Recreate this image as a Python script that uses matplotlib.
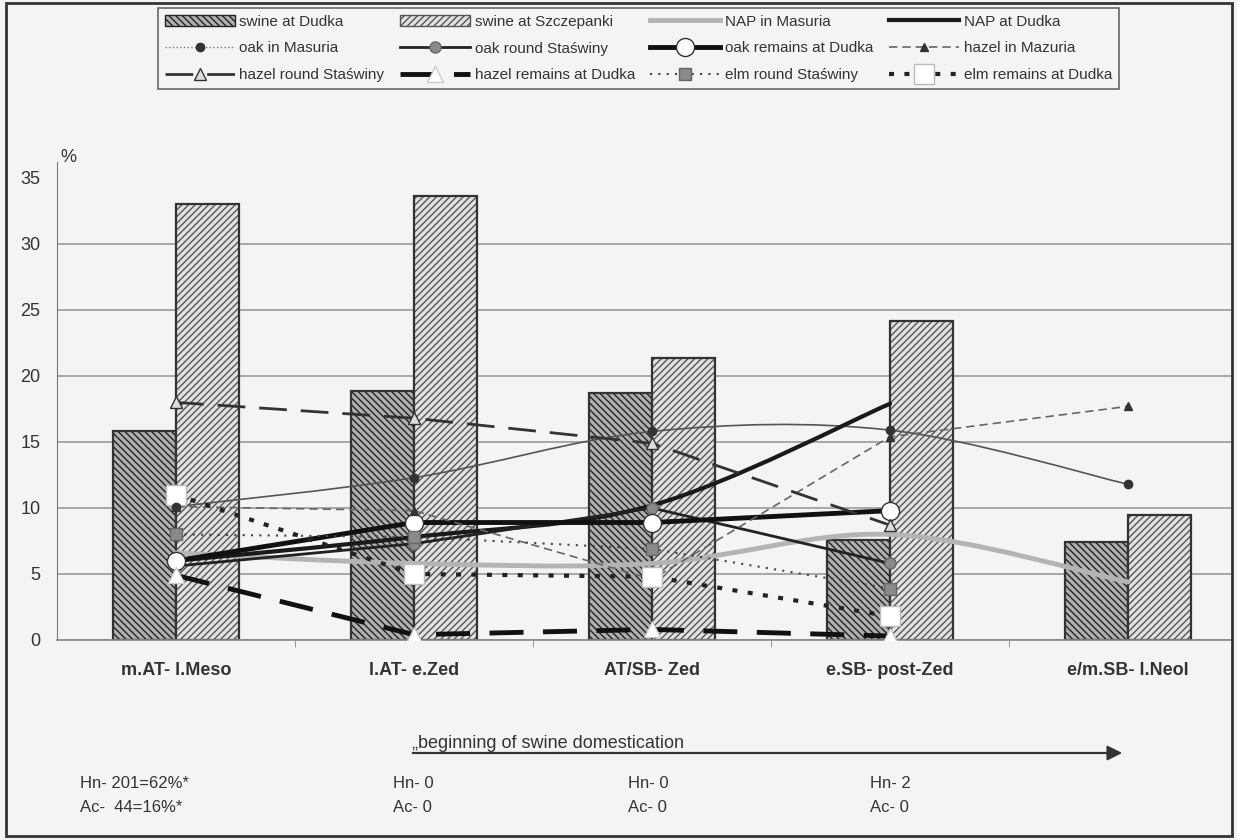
import numpy as np
import matplotlib
matplotlib.use('Agg')
import matplotlib.pyplot as plt
from matplotlib.path import Path
from matplotlib.patches import PathPatch, Patch, Rectangle, FancyArrowPatch
from matplotlib.lines import Line2D

plt.rcParams['font.family'] = ['Liberation Sans', 'DejaVu Sans']
plt.rcParams['hatch.linewidth'] = 1.0

# data (%)
periods = ['m.AT- l.Meso', 'l.AT- e.Zed', 'AT/SB- Zed', 'e.SB- post-Zed', 'e/m.SB- l.Neol']
swine_dudka = [15.8, 18.9, 18.7, 7.6, 7.4]
swine_szczepanki = [33.0, 33.6, 21.4, 24.2, 9.5]
nap_masuria = [6.6, 5.8, 5.8, 8.0, 4.4]
nap_dudka = [6.0, 7.8, 10.2, 17.9, np.nan]
oak_masuria = [10.1, 12.3, 15.8, 15.9, 11.8]
oak_staswiny = [5.6, 7.3, 10.0, 5.8, np.nan]
oak_dudka = [6.0, 8.9, 8.9, 9.8, np.nan]
hazel_mazuria = [10.1, 9.8, 4.6, 15.4, 17.7]
hazel_staswiny = [18.0, 16.8, 14.9, 8.7, np.nan]
hazel_dudka = [4.9, 0.4, 0.8, 0.3, np.nan]
elm_staswiny = [8.0, 7.8, 6.9, 3.9, np.nan]
elm_dudka = [11.0, 5.0, 4.8, 1.8, np.nan]

hn_ac = [('Hn- 201=62%*', 'Ac-  44=16%*'), ('Hn- 0', 'Ac- 0'), ('Hn- 0', 'Ac- 0'), ('Hn- 2', 'Ac- 0')]
hn_ac_x = [80, 393, 628, 870]


def smooth_path(xs, ys):
    pts = [(x, y) for x, y in zip(xs, ys) if not np.isnan(y)]
    verts = [pts[0]]
    codes = [Path.MOVETO]
    for i in range(len(pts) - 1):
        p0 = pts[i - 1] if i > 0 else pts[i]
        p1, p2 = pts[i], pts[i + 1]
        p3 = pts[i + 2] if i + 2 < len(pts) else pts[i + 1]
        c1 = (p1[0] + (p2[0] - p0[0]) / 6, p1[1] + (p2[1] - p0[1]) / 6)
        c2 = (p2[0] - (p3[0] - p1[0]) / 6, p2[1] - (p3[1] - p1[1]) / 6)
        verts += [c1, c2, p2]
        codes += [Path.CURVE4] * 3
    return Path(verts, codes)


W, H = 1237, 840
fig = plt.figure(figsize=(12.37, 8.4), dpi=100, facecolor='#f4f4f4')


def fx(px):
    return px / W


def fy(py):
    return 1 - py / H


ax = fig.add_axes([fx(57), fy(640), fx(1232 - 57), (640 - 162) / H])
ax.set_facecolor('none')
x = np.arange(len(periods))
ax.set_xlim(-0.5, -0.5 + 1175 / 238)
ax.set_ylim(0, (640 - 162) / 13.2)

# bars: hatched fill then dark outline
bw = 0.265
dudka_hatch = '\\\\\\\\\\'
szcz_hatch = '/////'
ax.bar(x - bw / 2, swine_dudka, bw, color='#b0b0b0', edgecolor='#222222', hatch=dudka_hatch, linewidth=0, zorder=2)
ax.bar(x - bw / 2, swine_dudka, bw, fill=False, edgecolor='#333333', linewidth=1.6, zorder=2)
ax.bar(x + bw / 2, swine_szczepanki, bw, color='#e2e2e2', edgecolor='#555555', hatch=szcz_hatch, linewidth=0, zorder=2)
ax.bar(x + bw / 2, swine_szczepanki, bw, fill=False, edgecolor='#333333', linewidth=1.6, zorder=2)

# smoothed lines
smooth_specs = [
    (nap_masuria, dict(edgecolor='#b4b4b4', lw=3.5)),
    (oak_masuria, dict(edgecolor='#555555', lw=1.2)),
    (nap_dudka, dict(edgecolor='#1a1a1a', lw=3.0)),
]
for vals, kw in smooth_specs:
    ax.add_patch(PathPatch(smooth_path(x, np.array(vals, float)), fill=False, zorder=4, capstyle='round', **kw))
ax.plot(x, oak_masuria, ls='none', marker='o', ms=6, color='#333333', zorder=6)

line_specs = [
    (oak_staswiny, dict(color='#222222', lw=2.0, ls='-', marker='o', ms=8, mfc='#8a8a8a', mec='#666666')),
    (oak_dudka, dict(color='#111111', lw=3.5, ls='-', marker='o', ms=13, mfc='white', mec='#333333')),
    (hazel_mazuria, dict(color='#666666', lw=1.2, dashes=(5, 3), marker='^', ms=6, mfc='#333333', mec='#333333')),
    (hazel_staswiny, dict(color='#333333', lw=2.0, dashes=(10, 5), marker='^', ms=8, mfc='#dddddd', mec='#333333')),
    (hazel_dudka, dict(color='#111111', lw=3.5, dashes=(7, 4), marker='^', ms=12, mfc='white', mec='#cccccc')),
    (elm_staswiny, dict(color='#444444', lw=1.5, dashes=(1, 3), marker='s', ms=8, mfc='#8a8a8a', mec='#666666')),
    (elm_dudka, dict(color='#222222', lw=3.0, dashes=(1.2, 2.5), marker='s', ms=14, mfc='white', mec='#bbbbbb')),
]
for vals, kw in line_specs:
    ax.plot(x, vals, zorder=5, **kw)

# axes styling
ax.set_yticks(range(0, 36, 5))
ax.tick_params(axis='y', length=0, labelsize=13, pad=12, colors='#333333')
ax.yaxis.grid(True, color='#9a9a9a', lw=1.2, zorder=0)
ax.yaxis.get_gridlines()[-1].set_visible(False)
ax.set_xticks(x)
ax.set_xticklabels(periods, fontsize=13, fontweight='bold', color='#333333')
ax.tick_params(axis='x', length=0, pad=16)
ax.set_xticks(x[:-1] + 0.5, minor=True)
ax.tick_params(axis='x', which='minor', length=5, color='#888888')
for s in ['top', 'right']:
    ax.spines[s].set_visible(False)
ax.spines['left'].set_color('#777777')
ax.spines['bottom'].set_color('#888888')
ax.spines['bottom'].set_linewidth(1.2)
ax.set_axisbelow(True)

fig.text(fx(60), fy(158), '%', fontsize=13, color='#333333', va='center')

# legend
h = {
    'swine at Dudka': Patch(facecolor='#b0b0b0', edgecolor='#222222', hatch=dudka_hatch),
    'swine at Szczepanki': Patch(facecolor='#e2e2e2', edgecolor='#555555', hatch=szcz_hatch),
    'NAP in Masuria': Line2D([], [], color='#b4b4b4', lw=3.5),
    'NAP at Dudka': Line2D([], [], color='#1a1a1a', lw=3.0),
    'oak in Masuria': Line2D([], [], color='#777777', lw=1, ls=':', marker='o', ms=6, mfc='#333333', mec='#333333'),
}
for name, (vals, kw) in zip(['oak round Staświny', 'oak remains at Dudka', 'hazel in Mazuria',
                             'hazel round Staświny', 'hazel remains at Dudka', 'elm round Staświny',
                             'elm remains at Dudka'], line_specs):
    h[name] = Line2D([], [], **kw)
rows = [['swine at Dudka', 'swine at Szczepanki', 'NAP in Masuria', 'NAP at Dudka'],
        ['oak in Masuria', 'oak round Staświny', 'oak remains at Dudka', 'hazel in Mazuria'],
        ['hazel round Staświny', 'hazel remains at Dudka', 'elm round Staświny', 'elm remains at Dudka']]
order = [rows[r][c] for c in range(4) for r in range(3)]
leg = fig.legend([h[n] for n in order], order, ncol=4, loc='upper left',
                 bbox_to_anchor=(fx(150), fy(0)), fontsize=11, handlelength=4.6,
                 columnspacing=1.0, handletextpad=0.3, labelspacing=0.85,
                 frameon=True, fancybox=False, edgecolor='#444444', facecolor='#f4f4f4',
                 borderpad=0.45)
leg.get_frame().set_linewidth(1.2)
for t in leg.get_texts():
    t.set_color('#333333')

# bottom annotations
fig.add_artist(FancyArrowPatch((fx(410), fy(753)), (fx(1125), fy(753)), transform=fig.transFigure,
                               arrowstyle='-|>', mutation_scale=22, color='#333333', lw=1.6))
fig.text(fx(412), fy(748), '„beginning of swine domestication', fontsize=13, color='#333333', va='baseline')
for (hn, ac), px in zip(hn_ac, hn_ac_x):
    fig.text(fx(px), fy(783), hn, fontsize=12, color='#333333', va='center')
    fig.text(fx(px), fy(808), ac, fontsize=12, color='#333333', va='center')

# outer frame
fig.add_artist(Rectangle((fx(6), fy(836)), fx(1226), (836 - 3) / H, transform=fig.transFigure,
                         fill=False, edgecolor='#333333', lw=2))

fig.savefig('out.png', dpi=100, facecolor=fig.get_facecolor())
